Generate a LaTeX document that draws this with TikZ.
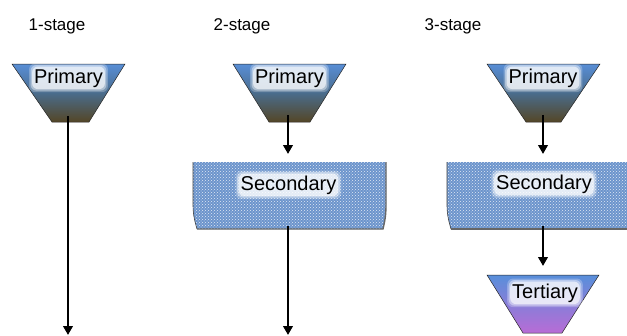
\documentclass[tikz,border=0pt]{standalone}
\usepackage{fontspec}
\setmainfont{Liberation Sans}
\usetikzlibrary{arrows.meta,patterns,calc}
\definecolor{primtop}{RGB}{88,142,214}
\definecolor{primmid}{RGB}{74,108,140}
\definecolor{primbot}{RGB}{84,70,38}
\definecolor{tertop}{RGB}{88,143,218}
\definecolor{terbot}{RGB}{184,108,214}
\definecolor{secblue}{RGB}{108,148,204}
\newcommand\glowat[3]{%
  \node[lbl,glow,inner sep=5pt,fill opacity=.25] at (#2) {\phantom{#3}};
  \node[lbl,glow,inner sep=3.5pt,fill opacity=.4] at (#2) {\phantom{#3}};
  \node[lbl,glow,inner sep=2pt,fill opacity=.6] at (#2) {\phantom{#3}};
  \node[lbl] (#1) at (#2) {#3};}
\begin{document}
\begin{tikzpicture}[x=1pt,y=-1pt,
  title/.style={font=\fontsize{17}{20}\selectfont, anchor=base, inner sep=0pt},
  lbl/.style={font=\fontsize{20}{24}\selectfont, anchor=base, inner sep=0pt},
  glow/.style={fill=white, rounded corners=6pt},
  conn/.style={line width=2.2pt, -{Triangle[width=9.5pt,length=9pt]}},
  trapline/.style={draw=black!85, line width=0.5pt},
  prim/.style={trapline, top color=primtop, bottom color=primbot, middle color=primmid},
  tert/.style={trapline, top color=tertop, bottom color=terbot},
  secbox/.style={fill=secblue, postaction={pattern=crosshatch dots, pattern color=white!80!secblue}},
  secedge/.style={draw=black!75, line width=0.6pt},
  secshadow/.style={draw=black!60, line width=1.4pt}]
\useasboundingbox (0,0) rectangle (627,335);
\clip (0,0) rectangle (627,335);
\fill[white] (0,0) rectangle (627,335);

% titles
\node[title] (t1) at (57,30) {1-stage};
\node[title] (t2) at (242,30) {2-stage};
\node[title] (t3) at (453,30) {3-stage};

% connector coordinates
\coordinate (p1s) at (68,116);
\coordinate (e1) at (68,335);
\coordinate (p2s) at (288,115);
\coordinate (s2t) at (288,154);
\coordinate (s2s) at (288,226);
\coordinate (e2) at (288,335);
\coordinate (p3s) at (543,115);
\coordinate (s3t) at (543,154);
\coordinate (s3s) at (543,226);
\coordinate (t3t) at (543,266);

% column 1
\path[prim] (12,64) -- (125,64) -- (89,122) -- (52,122) -- cycle;
\draw[conn] (p1s) -- (e1);
\glowat{pr1}{68.5,83}{Primary}

% column 2
\path[prim] (233,64) -- (346,64) -- (310,122) -- (269,122) -- cycle;
\draw[conn] (p2s) -- (s2t);
\path[secbox] (193,162) -- (386,162) -- (386,205) .. controls (386,218) and (384,224) .. (383,229) -- (197,229) .. controls (195,222) and (193,215) .. (193,205) -- cycle;
\draw[secedge] (193,162) -- (193,205) .. controls (193,215) and (195,222) .. (197,229);
\draw[secshadow] (386,162) -- (386,205) .. controls (386,218) and (384,224) .. (383,229) -- (197,229);
\draw[conn] (s2s) -- (e2);
\glowat{pr2}{289.5,83}{Primary}
\glowat{se2}{288.5,190}{Secondary}

% column 3
\path[prim] (487,64) -- (600,64) -- (561,122) -- (526,122) -- cycle;
\draw[conn] (p3s) -- (s3t);
\path[secbox] (447,162) -- (640,162) -- (640,205) .. controls (640,218) and (638,224) .. (637,229) -- (451,229) .. controls (449,222) and (447,215) .. (447,205) -- cycle;
\draw[secedge] (447,162) -- (447,205) .. controls (447,215) and (449,222) .. (451,229);
\draw[secshadow] (451,229) -- (637,229);
\draw[conn] (s3s) -- (t3t);
\path[tert] (487,275) -- (599,275) -- (562,333) -- (523,333) -- cycle;
\glowat{pr3}{543,83}{Primary}
\glowat{se3}{544,189}{Secondary}
\glowat{te3}{545,298}{Tertiary}
\end{tikzpicture}
\end{document}
